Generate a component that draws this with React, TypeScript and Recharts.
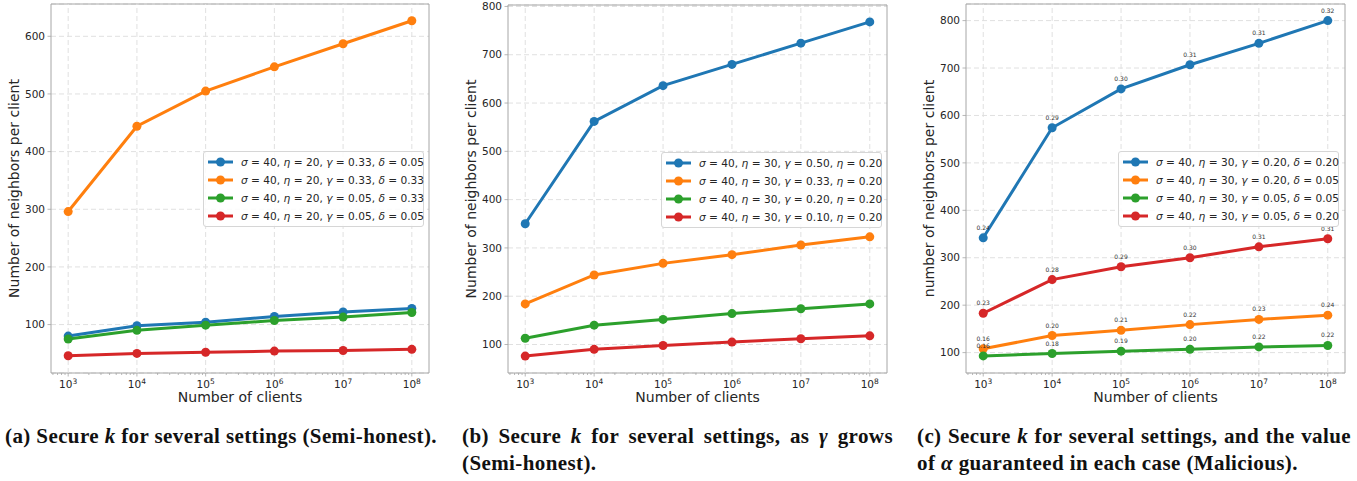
import React from 'react';
import {
  LineChart,
  Line,
  XAxis,
  YAxis,
  CartesianGrid,
  ReferenceLine,
  ReferenceArea,
  Legend,
  LabelList,
} from 'recharts';

const BLUE = '#1f77b4';
const ORANGE = '#ff7f0e';
const GREEN = '#2ca02c';
const RED = '#d62728';
const SPINE = '#a6a6a6';
const GRID = '#e0e0e0';
const INK = '#262626';
const FONT = '"DejaVu Sans", sans-serif';
const CAPTION_FONT = '"Liberation Serif", serif';

// x axis: number of clients (log scale)
const CLIENTS = [1e3, 1e4, 1e5, 1e6, 1e7, 1e8];
const X_MIN = 10 ** 2.75;
const X_MAX = 10 ** 8.25;
const MINOR_STEPS = [2, 3, 4, 5, 6, 7, 8, 9];
const MINOR_DECADES = [1e2, 1e3, 1e4, 1e5, 1e6, 1e7, 1e8];
const MINOR_TICKS = MINOR_DECADES.flatMap((d) => MINOR_STEPS.map((m) => m * d)).filter(
  (v) => v > X_MIN && v < X_MAX
);

// (a) semi-honest
const A_BLUE = [80, 98, 104, 114, 122, 128];
const A_ORANGE = [296, 444, 505, 547, 587, 627];
const A_GREEN = [75, 90, 99, 107, 113, 121];
const A_RED = [46, 50, 52, 54, 55, 57];
const A_NAMES = [
  'σ = 40, η = 20, γ = 0.33, δ = 0.05',
  'σ = 40, η = 20, γ = 0.33, δ = 0.33',
  'σ = 40, η = 20, γ = 0.05, δ = 0.33',
  'σ = 40, η = 20, γ = 0.05, δ = 0.05',
];
const A_TICKS = [100, 200, 300, 400, 500, 600];

// (b) semi-honest, gamma grows
const B_BLUE = [350, 562, 636, 680, 724, 768];
const B_ORANGE = [184, 244, 268, 286, 306, 323];
const B_GREEN = [113, 140, 152, 164, 174, 184];
const B_RED = [76, 90, 98, 105, 112, 118];
const B_NAMES = [
  'σ = 40, η = 30, γ = 0.50, η = 0.20',
  'σ = 40, η = 30, γ = 0.33, η = 0.20',
  'σ = 40, η = 30, γ = 0.20, η = 0.20',
  'σ = 40, η = 30, γ = 0.10, η = 0.20',
];
const B_TICKS = [100, 200, 300, 400, 500, 600, 700, 800];

// (c) malicious, with alpha labels
const C_BLUE = [342, 574, 656, 707, 752, 800];
const C_ORANGE = [108, 136, 147, 159, 170, 179];
const C_GREEN = [93, 98, 103, 107, 112, 115];
const C_RED = [183, 254, 281, 300, 323, 340];
const C_BLUE_ALPHA = ['0.24', '0.29', '0.30', '0.31', '0.31', '0.32'];
const C_ORANGE_ALPHA = ['0.16', '0.20', '0.21', '0.22', '0.23', '0.24'];
const C_GREEN_ALPHA = ['0.16', '0.18', '0.19', '0.20', '0.22', '0.22'];
const C_RED_ALPHA = ['0.23', '0.28', '0.29', '0.30', '0.31', '0.31'];
const C_NAMES = [
  'σ = 40, η = 30, γ = 0.20, δ = 0.20',
  'σ = 40, η = 30, γ = 0.20, δ = 0.05',
  'σ = 40, η = 30, γ = 0.05, δ = 0.05',
  'σ = 40, η = 30, γ = 0.05, δ = 0.20',
];
const C_TICKS = [100, 200, 300, 400, 500, 600, 700, 800];

type Series = { values: number[]; color: string; name: string; alpha?: string[] };

function LogTick(props: any) {
  const { x, y, payload } = props;
  const v = payload.value;
  const exp = Math.round(Math.log10(v));
  const major = Math.abs(v - 10 ** exp) < 1e-6 * v;
  if (!major) {
    return <line x1={x} x2={x} y1={y} y2={y + 2} stroke={SPINE} strokeWidth={0.8} />;
  }
  return (
    <g>
      <line x1={x} x2={x} y1={y} y2={y + 3.5} stroke={SPINE} strokeWidth={0.8} />
      <text x={x} y={y + 15} textAnchor="middle" fontSize={10.5} fill={INK} fontFamily={FONT}>
        10
        <tspan dy={-4} fontSize={7.5}>
          {exp}
        </tspan>
      </text>
    </g>
  );
}

const renderAlpha = (props: any) => {
  const { x, y, value } = props;
  return (
    <text x={x} y={y - 8} textAnchor="middle" fontSize={6} fill="#333" fontFamily={FONT}>
      {value}
    </text>
  );
};

function MathName({ text }: { text: string }) {
  const parts = text.split(', ');
  return (
    <>
      {parts.map((p, i) => {
        const [sym, val] = p.split(' = ');
        return (
          <span key={i}>
            <i>{sym}</i> = {val}
            {i < parts.length - 1 ? ', ' : ''}
          </span>
        );
      })}
    </>
  );
}

// legend keeps the plotting order of the series (no sorting)
const makeLegend = (series: Series[]) => () => (
  <div
    style={{
      border: '1px solid #d6d6d6',
      borderRadius: 3,
      background: 'rgba(255,255,255,0.85)',
      padding: '1px 0',
      boxSizing: 'border-box',
      height: '100%',
    }}
  >
    {series.map((s, i) => (
      <div key={i} style={{ display: 'flex', alignItems: 'center', height: 18 }}>
        <svg width={25} height={10} style={{ marginLeft: 4, marginRight: 8, flex: 'none' }}>
          <line x1={0} x2={25} y1={5} y2={5} stroke={s.color} strokeWidth={3} />
          <circle cx={12.5} cy={5} r={4.5} fill={s.color} />
        </svg>
        <span style={{ fontSize: 10.6, color: INK, fontFamily: FONT, whiteSpace: 'nowrap' }}>
          <MathName text={s.name} />
        </span>
      </div>
    ))}
  </div>
);

interface PanelProps {
  series: Series[];
  yDomain: [number, number];
  yTicks: number[];
  yLabel: string;
  width: number;
  height: number;
  margin: { top: number; right: number; bottom: number; left: number };
  legendPos: { left: number; top: number };
}

function Panel({ series, yDomain, yTicks, yLabel, width, height, margin, legendPos }: PanelProps) {
  const data = CLIENTS.map((n, i) => {
    const row: any = { n };
    series.forEach((s, k) => {
      row['s' + k] = s.values[i];
      if (s.alpha) row['a' + k] = s.alpha[i];
    });
    return row;
  });

  return (
    <LineChart width={width} height={height} data={data} margin={margin}>
      <CartesianGrid vertical={false} stroke={GRID} strokeDasharray="5 3" />
      {CLIENTS.map((v) => (
        <ReferenceLine key={v} x={v} stroke={GRID} strokeDasharray="5 3" />
      ))}
      <XAxis
        dataKey="n"
        type="number"
        scale="log"
        domain={[X_MIN, X_MAX]}
        allowDataOverflow
        ticks={[...CLIENTS, ...MINOR_TICKS]}
        interval={0}
        tick={(p: any) => <LogTick {...p} />}
        tickLine={false}
        axisLine={false}
        tickSize={0}
        tickMargin={0}
        height={30}
        label={{
          content: ({ viewBox }: any) => (
            <text
              x={viewBox.x + viewBox.width / 2}
              y={viewBox.y + 29}
              textAnchor="middle"
              fontSize={14}
              fill={INK}
              fontFamily={FONT}
            >
              Number of clients
            </text>
          ),
        }}
      />
      <YAxis
        type="number"
        domain={yDomain}
        allowDataOverflow
        ticks={yTicks}
        interval={0}
        width={40}
        axisLine={false}
        tickLine={{ stroke: SPINE, strokeWidth: 0.8 }}
        tickSize={3.5}
        tickMargin={2.5}
        tick={{ fontSize: 10.5, fill: INK, fontFamily: FONT }}
        label={{
          content: ({ viewBox }: any) => {
            const cx = viewBox.x + 3;
            const cy = viewBox.y + viewBox.height / 2;
            return (
              <text
                x={cx}
                y={cy}
                transform={`rotate(-90 ${cx} ${cy})`}
                textAnchor="middle"
                dominantBaseline="central"
                fontSize={14}
                fill={INK}
                fontFamily={FONT}
              >
                {yLabel}
              </text>
            );
          },
        }}
      />
      <ReferenceArea
        x1={X_MIN}
        x2={X_MAX}
        y1={yDomain[0]}
        y2={yDomain[1]}
        fill="none"
        stroke={SPINE}
        strokeWidth={1}
        ifOverflow="visible"
      />
      {series.map((s, k) => (
        <Line
          key={k}
          type="linear"
          dataKey={'s' + k}
          name={s.name}
          stroke={s.color}
          strokeWidth={3}
          dot={{ r: 4.5, fill: s.color, stroke: s.color, strokeWidth: 0 }}
          activeDot={false}
          isAnimationActive={false}
        >
          {s.alpha && <LabelList dataKey={'a' + k} content={renderAlpha} />}
        </Line>
      ))}
      <Legend
        layout="vertical"
        align="center"
        verticalAlign="middle"
        wrapperStyle={{ left: legendPos.left, top: legendPos.top, width: 221, height: 76 }}
        content={makeLegend(series)}
      />
    </LineChart>
  );
}

const SERIES_A: Series[] = [
  { values: A_BLUE, color: BLUE, name: A_NAMES[0] },
  { values: A_ORANGE, color: ORANGE, name: A_NAMES[1] },
  { values: A_GREEN, color: GREEN, name: A_NAMES[2] },
  { values: A_RED, color: RED, name: A_NAMES[3] },
];
const SERIES_B: Series[] = [
  { values: B_BLUE, color: BLUE, name: B_NAMES[0] },
  { values: B_ORANGE, color: ORANGE, name: B_NAMES[1] },
  { values: B_GREEN, color: GREEN, name: B_NAMES[2] },
  { values: B_RED, color: RED, name: B_NAMES[3] },
];
const SERIES_C: Series[] = [
  { values: C_BLUE, color: BLUE, name: C_NAMES[0], alpha: C_BLUE_ALPHA },
  { values: C_ORANGE, color: ORANGE, name: C_NAMES[1], alpha: C_ORANGE_ALPHA },
  { values: C_GREEN, color: GREEN, name: C_NAMES[2], alpha: C_GREEN_ALPHA },
  { values: C_RED, color: RED, name: C_NAMES[3], alpha: C_RED_ALPHA },
];

const captionStyle: React.CSSProperties = {
  position: 'absolute',
  fontFamily: CAPTION_FONT,
  fontWeight: 'bold',
  fontSize: 21,
  letterSpacing: 0.4,
  lineHeight: '27px',
  color: '#111',
};

export default function App() {
  return (
    <div style={{ position: 'absolute', left: 0, top: 0, width: 1357, height: 481, background: '#fff' }}>
      <div style={{ position: 'absolute', left: 0, top: 0 }}>
        <Panel
          series={SERIES_A}
          yDomain={[16, 656]}
          yTicks={A_TICKS}
          yLabel="Number of neighbors per client"
          width={450}
          height={410}
          margin={{ top: 4, right: 21, bottom: 7, left: 11 }}
          legendPos={{ left: 203, top: 151 }}
        />
      </div>
      <div style={{ position: 'absolute', left: 450, top: 0 }}>
        <Panel
          series={SERIES_B}
          yDomain={[41, 803]}
          yTicks={B_TICKS}
          yLabel="Number of neighbors per client"
          width={450}
          height={410}
          margin={{ top: 5, right: 13, bottom: 7, left: 18 }}
          legendPos={{ left: 211, top: 152 }}
        />
      </div>
      <div style={{ position: 'absolute', left: 900, top: 0 }}>
        <Panel
          series={SERIES_C}
          yDomain={[57, 835]}
          yTicks={C_TICKS}
          yLabel="number of neighbors per client"
          width={457}
          height={410}
          margin={{ top: 4, right: 12, bottom: 7, left: 26 }}
          legendPos={{ left: 218, top: 151 }}
        />
      </div>

      <div style={{ ...captionStyle, left: 5, top: 423, whiteSpace: 'nowrap' }}>
        (a) Secure <i>k</i> for several settings (Semi-honest).
      </div>
      <div style={{ ...captionStyle, left: 462, top: 423, width: 431 }}>
        <div style={{ textAlign: 'justify', textAlignLast: 'justify' }}>
          (b) Secure <i>k</i> for several settings, as <i>γ</i> grows
        </div>
        <div>(Semi-honest).</div>
      </div>
      <div style={{ ...captionStyle, left: 917, top: 423, width: 434 }}>
        <div style={{ textAlign: 'justify', textAlignLast: 'justify' }}>
          (c) Secure <i>k</i> for several settings, and the value
        </div>
        <div>
          of <i>α</i> guaranteed in each case (Malicious).
        </div>
      </div>
    </div>
  );
}
